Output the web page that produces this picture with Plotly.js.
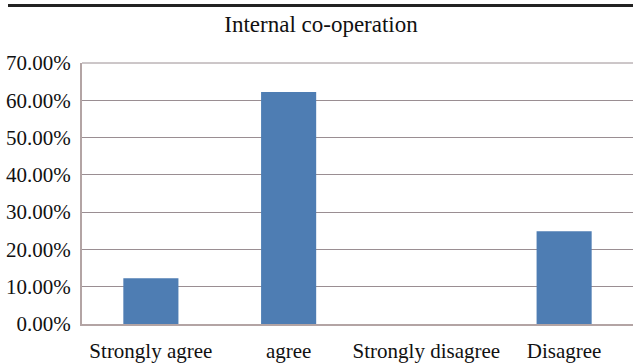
<!DOCTYPE html>
<html><head><meta charset="utf-8">
<script src="https://cdn.plot.ly/plotly-3.0.1.min.js"></script>
<style>html,body{margin:0;padding:0;background:#fff}#chart{width:633px;height:363px}</style>
</head><body><div id="chart"></div>
<script>
const categories = ["Strongly agree", "agree", "Strongly disagree", "Disagree"];
const values = [0.1225, 0.622, 0, 0.249];
const yTickVals = [0, 0.1, 0.2, 0.3, 0.4, 0.5, 0.6, 0.7];
const yTickText = ["0.00%", "10.00%", "20.00%", "30.00%", "40.00%", "50.00%", "60.00%", "70.00%"];

const fam = "Liberation Serif";
Plotly.newPlot("chart", [{
  type: "bar", x: categories, y: values,
  marker: {color: "#4e7db3", line: {width: 0}},
  hoverinfo: "none"
}], {
  width: 633, height: 363,
  margin: {l: 82, r: 0, t: 63, b: 39, pad: 0},
  paper_bgcolor: "#fff", plot_bgcolor: "#fff",
  font: {family: fam, size: 21, color: "#111"},
  bargap: 0.6,
  title: {text: "Internal co-operation", font: {family: fam, size: 23, color: "#111"},
          x: 321/633, xref: "container", y: 1 - 24/363, yref: "container", yanchor: "middle"},
  xaxis: {type: "category", showgrid: false, showline: true, linecolor: "#b3a4a4", linewidth: 2,
          ticks: "", ticklabelstandoff: 7, tickfont: {family: fam, size: 21, color: "#111"}, zeroline: false, fixedrange: true},
  yaxis: {range: [0, 0.7], tickvals: yTickVals, ticktext: yTickText, showgrid: true, gridcolor: "#9a8e92", gridwidth: 1,
          showline: true, linecolor: "#b3a4a4", linewidth: 2, mirror: false, zeroline: false,
          ticks: "", ticklabelstandoff: 5, tickfont: {family: fam, size: 21, color: "#111"}, fixedrange: true},
  shapes: [{type: "line", xref: "paper", yref: "paper", x0: -74/551, x1: 1, y0: 1 + 57.5/261, y1: 1 + 57.5/261,
            line: {color: "#222", width: 3}},
           {type: "line", xref: "paper", yref: "paper", x0: 0, x1: 1, y0: 1, y1: 1, line: {color: "#9a8e92", width: 1}}],
  showlegend: false
}, {displayModeBar: false, staticPlot: true});
</script></body></html>
